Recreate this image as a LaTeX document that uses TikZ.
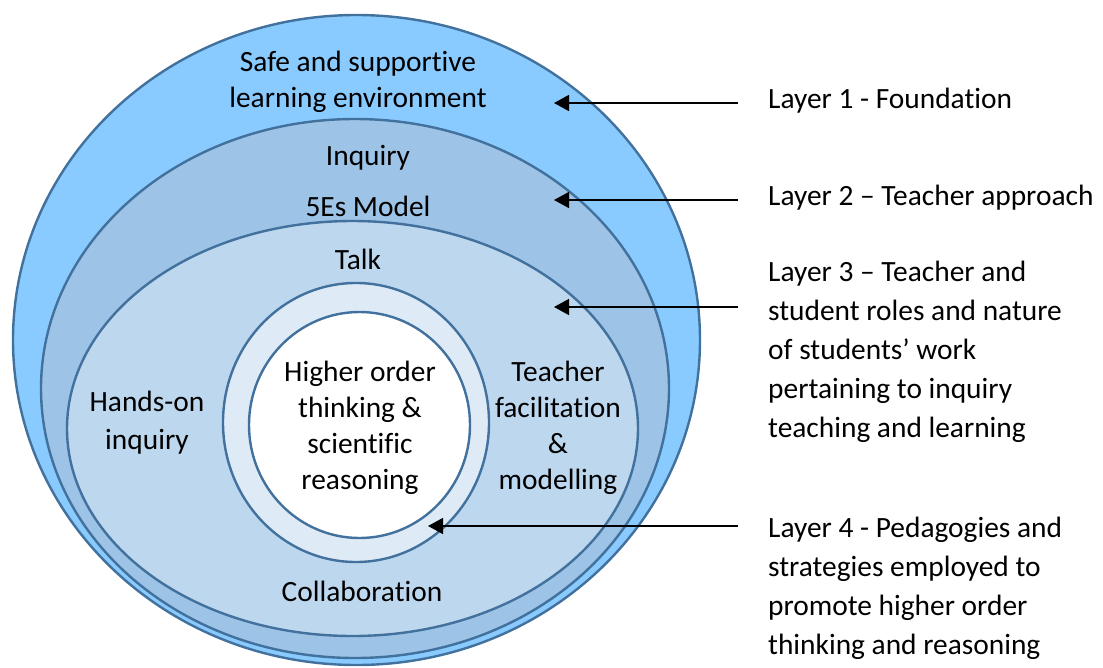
\documentclass[tikz,border=0pt]{standalone}
\usepackage{fontspec}
\setmainfont{Carlito}[Ligatures={NoCommon}]
\usetikzlibrary{arrows.meta}
\definecolor{edgeblue}{HTML}{41719C}
\definecolor{fillA}{HTML}{8ACBFF}
\definecolor{fillB}{HTML}{9DC3E6}
\definecolor{fillC}{HTML}{BDD7EE}
\definecolor{fillD}{HTML}{DEEBF7}
\begin{document}
\begin{tikzpicture}[x=1pt,y=-1pt,
  layer/.style={draw=edgeblue, line width=2.4pt},
  lbl/.style={inner sep=0pt, anchor=base, font=\fontsize{29.4}{36}\selectfont},
  side/.style={lbl, anchor=base west},
  pointer/.style={draw=black, line width=1.5pt, -{Triangle[length=15pt,width=16pt]}}]
\useasboundingbox (0,0) rectangle (1103,667);
% layers
\draw[layer, fill=fillA] (356.5,340) ellipse [x radius=343.5, y radius=325];
\draw[layer, fill=fillB] (355,388.5) ellipse [x radius=314, y radius=269.5];
\draw[layer, fill=fillC] (352.5,428.5) ellipse [x radius=285.5, y radius=207.5];
\draw[layer, fill=fillD] (356,422.5) ellipse [x radius=133, y radius=139.5];
\draw[layer, fill=white] (359.5,425) ellipse [x radius=110.5, y radius=113];
% texts inside
\node[lbl] (safe1) at (358,71) {Safe and supportive};
\node[lbl] (safe2) at (358,107) {learning environment};
\node[lbl] (inq) at (368,165) {Inquiry};
\node[lbl] (fivee) at (368,216) {5Es Model};
\node[lbl] (talk) at (358,269) {Talk};
\node[lbl] (hands1) at (147,411) {Hands-on};
\node[lbl] (hands2) at (147,449) {inquiry};
\node[lbl] (hot1) at (360,381) {Higher order};
\node[lbl] (hot2) at (360,417) {thinking \&};
\node[lbl] (hot3) at (360,453) {scientific};
\node[lbl] (hot4) at (360,489) {reasoning};
\node[lbl] (tf1) at (558,381) {Teacher};
\node[lbl] (tf2) at (558,417) {facilitation};
\node[lbl] (tf3) at (558,453) {\&};
\node[lbl] (tf4) at (558,489) {modelling};
\node[lbl] (collab) at (362,601) {Collaboration};
% side labels
\node[side] (l1) at (768,108) {Layer 1 - Foundation};
\node[side] (l2) at (768,205) {Layer 2 – Teacher approach};
\node[side] (l3a) at (768,281) {Layer 3 – Teacher and};
\node[side] (l3b) at (768,320) {student roles and nature};
\node[side] (l3c) at (768,359) {of students’ work};
\node[side] (l3d) at (768,398) {pertaining to inquiry};
\node[side] (l3e) at (768,437) {teaching and learning};
\node[side] (l4a) at (768,537) {Layer 4 - Pedagogies and};
\node[side] (l4b) at (768,576) {strategies employed to};
\node[side] (l4c) at (768,615) {promote higher order};
\node[side] (l4d) at (768,654) {thinking and reasoning};
% arrows
\coordinate (a1s) at (738,103); \coordinate (a1e) at (554,103);
\coordinate (a2s) at (738,200); \coordinate (a2e) at (554,200);
\coordinate (a3s) at (738,307); \coordinate (a3e) at (554,307);
\coordinate (a4s) at (738,526); \coordinate (a4e) at (428,526);
\draw[pointer] (a1s) -- (a1e);
\draw[pointer] (a2s) -- (a2e);
\draw[pointer] (a3s) -- (a3e);
\draw[pointer] (a4s) -- (a4e);
\end{tikzpicture}
\end{document}
